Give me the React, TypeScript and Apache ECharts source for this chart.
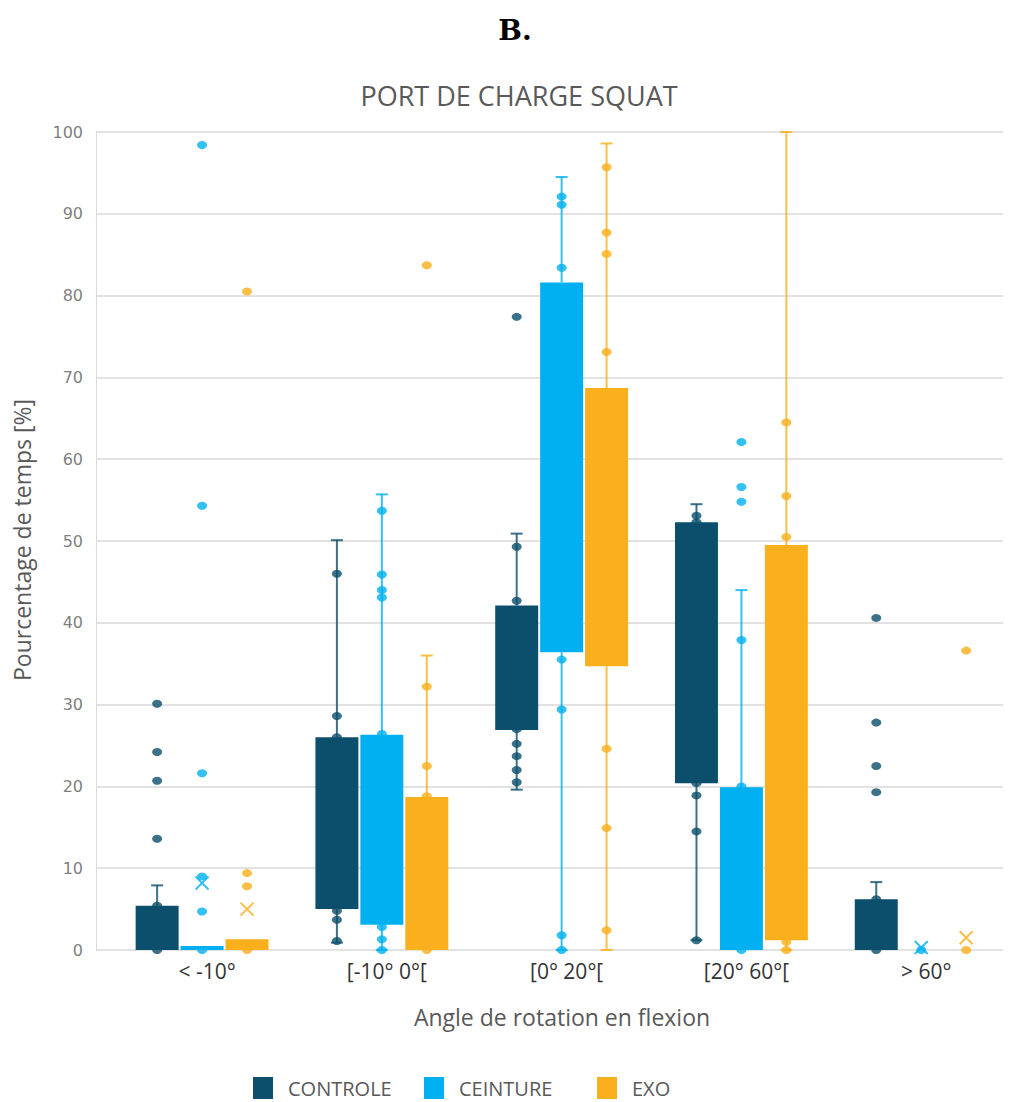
import React, { useEffect, useRef } from "react";
import * as echarts from "echarts";

const categories = ["< -10°", "[-10° 0°[", "[0° 20°[", "[20° 60°[", "> 60°"];
const groups = ["CONTROLE", "CEINTURE", "EXO"];
const colors = ["#0B4F6C", "#00B0F0", "#FAAF1C"];

// [lower whisker, Q1, Q3, upper whisker] per category
const controleBoxes = [
  [0, 0, 5.4, 7.9],
  [0.9, 5.0, 26.0, 50.1],
  [19.6, 26.9, 42.1, 50.9],
  [1.2, 20.4, 52.3, 54.5],
  [0, 0, 6.2, 8.3],
];
const ceintureBoxes = [
  [0, 0, 0.5, 0.5],
  [0, 3.1, 26.3, 55.7],
  [0, 36.4, 81.6, 94.5],
  [0, 0, 19.9, 44.0],
  [0, 0, 0, 0],
];
const exoBoxes = [
  [0, 0, 1.3, 1.3],
  [0, 0, 18.7, 36.0],
  [0, 34.7, 68.7, 98.6],
  [0, 1.2, 49.5, 100],
  [0, 0, 0, 0],
];

// individual observations: [category index, value]
const controlePoints = [
  [0, 0], [0, 5.4], [0, 13.6], [0, 20.7], [0, 24.2], [0, 30.1],
  [1, 1.1], [1, 3.7], [1, 4.8], [1, 26.0], [1, 28.6], [1, 46.0],
  [2, 20.5], [2, 22.0], [2, 23.7], [2, 25.2], [2, 27.0], [2, 42.7], [2, 49.3], [2, 77.4],
  [3, 1.2], [3, 14.5], [3, 18.9], [3, 20.4], [3, 52.3], [3, 53.1],
  [4, 0], [4, 6.2], [4, 19.3], [4, 22.5], [4, 27.8], [4, 40.6],
];
const ceinturePoints = [
  [0, 0], [0, 4.7], [0, 9.0], [0, 21.6], [0, 54.3], [0, 98.4],
  [1, 0], [1, 1.3], [1, 2.8], [1, 26.4], [1, 43.1], [1, 44.0], [1, 45.9], [1, 53.7],
  [2, 0], [2, 1.8], [2, 29.4], [2, 35.5], [2, 83.4], [2, 91.1], [2, 92.1],
  [3, 0], [3, 20.0], [3, 37.9], [3, 54.8], [3, 56.6], [3, 62.1],
  [4, 0],
];
const exoPoints = [
  [0, 0], [0, 7.8], [0, 9.4], [0, 80.5],
  [1, 0], [1, 18.8], [1, 22.5], [1, 32.2], [1, 83.7],
  [2, 2.4], [2, 14.9], [2, 24.6], [2, 73.1], [2, 85.1], [2, 87.7], [2, 95.7],
  [3, 0], [3, 1.0], [3, 50.5], [3, 55.5], [3, 64.5],
  [4, 0], [4, 36.6],
];

// visible means (X markers): [category index, value]
const controleMeans: number[][] = [];
const ceintureMeans = [[0, 8.2], [4, 0.3]];
const exoMeans = [[0, 5.0], [4, 1.5]];

const yMin = 0;
const yMax = 100;
const yInterval = 10;

const boxesByGroup = [controleBoxes, ceintureBoxes, exoBoxes];
const pointsByGroup = [controlePoints, ceinturePoints, exoPoints];
const meansByGroup = [controleMeans, ceintureMeans, exoMeans];

const GROUP_OFFSETS = [-0.25, 0, 0.25];
const LEGEND_LEFT = [253, 424, 597];
const BOX_W = 0.239;
const CAP = 6;
const FONT = "'Open Sans', 'Noto Sans', sans-serif";
const GREY = "#595959";

function makeRenderBox(color: string) {
  return (params: any, api: any) => {
    const x = api.value(0);
    const lo = api.value(1);
    const q1 = api.value(2);
    const q3 = api.value(3);
    const hi = api.value(4);
    const w = api.size([BOX_W, 0])[0];
    const pLo = api.coord([x, lo]);
    const pQ1 = api.coord([x, q1]);
    const pQ3 = api.coord([x, q3]);
    const pHi = api.coord([x, hi]);
    const cx = pQ1[0];
    const ls = { stroke: color, lineWidth: 2, opacity: 0.8 };
    const children: any[] = [];
    if (hi > q3) {
      children.push({ type: "line", shape: { x1: cx, y1: pQ3[1], x2: cx, y2: pHi[1] }, style: ls });
      children.push({ type: "line", shape: { x1: cx - CAP, y1: pHi[1], x2: cx + CAP, y2: pHi[1] }, style: ls });
    }
    if (lo < q1) {
      children.push({ type: "line", shape: { x1: cx, y1: pQ1[1], x2: cx, y2: pLo[1] }, style: ls });
      children.push({ type: "line", shape: { x1: cx - CAP, y1: pLo[1], x2: cx + CAP, y2: pLo[1] }, style: ls });
    }
    if (q3 > q1) {
      children.push({
        type: "rect",
        shape: { x: cx - w / 2, y: pQ3[1], width: w, height: pQ1[1] - pQ3[1] },
        style: { fill: color },
      });
    }
    return { type: "group", children };
  };
}

export default function App() {
  const ref = useRef<HTMLDivElement>(null);

  useEffect(() => {
    if (!ref.current) return;
    const chart = echarts.init(ref.current, undefined, { renderer: "svg" });

    const series: any[] = [];
    groups.forEach((g, gi) => {
      series.push({
        name: g,
        type: "custom",
        itemStyle: { color: colors[gi] },
        renderItem: makeRenderBox(colors[gi]),
        encode: { x: 0, y: [1, 2, 3, 4] },
        data: boxesByGroup[gi].map((b, ci) => [ci + GROUP_OFFSETS[gi], ...b]),
        z: 2,
      });
    });
    groups.forEach((g, gi) => {
      series.push({
        name: g + " points",
        type: "scatter",
        symbol: "circle",
        symbolSize: [10, 8],
        itemStyle: { color: colors[gi] },
        data: pointsByGroup[gi].map(([c, v]) => [c + GROUP_OFFSETS[gi], v]),
        z: 3,
      });
      series.push({
        name: g + " moyenne",
        type: "scatter",
        symbol: "path://M0,0L10,10M0,10L10,0",
        symbolSize: 13,
        itemStyle: { color: "none", borderColor: colors[gi], borderWidth: 2 },
        data: meansByGroup[gi].map(([c, v]) => [c + GROUP_OFFSETS[gi], v]),
        z: 4,
      });
    });

    chart.setOption({
      animation: false,
      backgroundColor: "#ffffff",
      grid: { left: 96, right: 11, top: 132, bottom: 152, containLabel: false },
      xAxis: {
        type: "value",
        min: -0.59,
        max: 4.455,
        splitLine: { show: false },
        axisTick: { show: false },
        axisLine: { show: false },
        axisLabel: {
          customValues: [0, 1, 2, 3, 4],
          formatter: (v: number) => categories[Math.round(v)],
          fontFamily: FONT,
          fontSize: 21,
          color: "#333333",
          margin: 10,
          padding: [0, 0, 0, 10],
        },
      },
      yAxis: {
        type: "value",
        min: yMin,
        max: yMax,
        interval: yInterval,
        axisLine: { show: true, onZero: false, lineStyle: { color: "#d9d9d9", width: 1 } },
        axisTick: { show: false },
        splitLine: { lineStyle: { color: "#d9d9d9", width: 1.5 } },
        axisLabel: {
          fontFamily: "DejaVu Sans",
          fontSize: 16,
          color: "#7f7f7f",
          margin: 13,
        },
      },
      legend: groups.map((g, i) => ({
        data: [{ name: g, icon: "rect", itemStyle: { color: colors[i] } }],
        left: LEGEND_LEFT[i],
        top: 1077,
        itemWidth: 20,
        itemHeight: 22,
        padding: 0,
        selectedMode: false,
        textStyle: { fontFamily: FONT, fontSize: 20, color: GREY, padding: [0, 0, 0, 10] },
      })),
      graphic: [
        {
          type: "text",
          x: 515,
          y: 30,
          style: {
            text: "B.",
            font: "bold 28px 'DejaVu Serif', serif",
            fill: "#000000",
            textAlign: "center",
            textVerticalAlign: "middle",
          },
        },
        {
          type: "text",
          x: 519,
          y: 95,
          style: {
            text: "PORT DE CHARGE SQUAT",
            fontFamily: FONT,
            fontSize: 27,
            fill: GREY,
            textAlign: "center",
            textVerticalAlign: "middle",
          },
        },
        {
          type: "text",
          x: 562,
          y: 1017,
          style: {
            text: "Angle de rotation en flexion",
            fontFamily: FONT,
            fontSize: 23,
            fill: GREY,
            textAlign: "center",
            textVerticalAlign: "middle",
          },
        },
        {
          type: "text",
          x: 22,
          y: 540,
          rotation: Math.PI / 2,
          style: {
            text: "Pourcentage de temps [%]",
            fontFamily: FONT,
            fontSize: 23,
            fill: GREY,
            textAlign: "center",
            textVerticalAlign: "middle",
          },
        },
      ],
      series,
    });

    return () => chart.dispose();
  }, []);

  return (
    <div
      ref={ref}
      style={{ position: "absolute", left: 0, top: 0, width: 1014, height: 1102, background: "#fff" }}
    />
  );
}
